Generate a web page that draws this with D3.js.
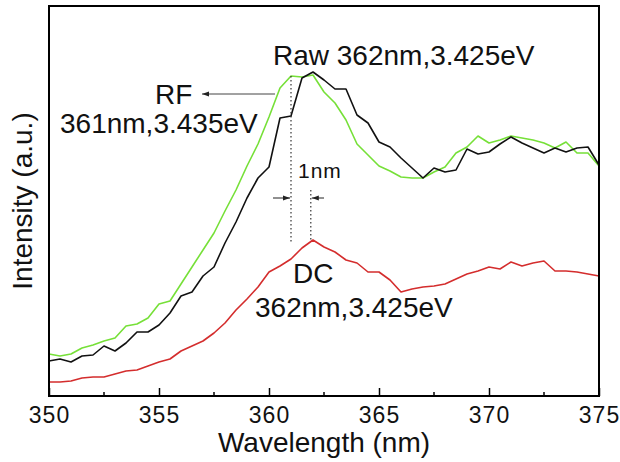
<!DOCTYPE html>
<html>
<head>
<meta charset="utf-8">
<script src="https://cdn.jsdelivr.net/npm/d3@7"></script>
<style>
  body { margin: 0; background: #fff; }
  svg { font-family: "Liberation Sans", Arial, sans-serif; }
</style>
</head>
<body>
<svg id="chart"></svg>
<script>
// PL spectra near the band edge: raw, RF and DC samples

const wavelength = [350, 350.5, 351, 351.5, 352, 352.5, 353, 353.5, 354, 354.5,
    355, 355.5, 356, 356.5, 357, 357.5, 358, 358.5, 359, 359.5,
    360, 360.5, 361, 361.5, 362, 362.5, 363, 363.5, 364, 364.5,
    365, 365.5, 366, 366.5, 367, 367.5, 368, 368.5, 369, 369.5,
    370, 370.5, 371, 371.5, 372, 372.5, 373, 373.5, 374, 374.5, 375];

const rawIntensity = [35, 37, 34, 40, 41, 50, 45, 53, 64, 64,
    71, 83, 100, 104, 120, 129, 153, 174, 198, 218,
    229, 278, 280, 318, 324, 316, 307, 307, 281, 273,
    254, 249, 238, 228, 218, 228, 224, 226, 247, 242,
    244, 252, 259, 253, 248, 243, 248, 244, 248, 249, 231];

const rfIntensity = [42, 40, 42, 48, 51, 55, 58, 70, 72, 78,
    92, 95, 112, 129, 146, 163, 185, 206, 230, 252,
    279, 308, 320, 319, 321, 304, 293, 276, 252, 241,
    230, 225, 219, 218, 218, 224, 229, 243, 249, 260,
    253, 256, 260, 258, 256, 253, 248, 254, 243, 243, 230];

const dcIntensity = [14, 14, 15, 18, 19, 19, 22, 25, 26, 30,
    34, 37, 45, 50, 55, 63, 73, 86, 97, 109,
    124, 130, 137, 148, 156, 149, 144, 136, 133, 124,
    124, 116, 104, 107, 109, 110, 112, 117, 122, 125,
    129, 127, 134, 130, 133, 135, 125, 125, 124, 122, 120];

const xTicks = [350, 355, 360, 365, 370, 375];
const xMinorTicks = [352.5, 357.5, 362.5, 367.5, 372.5];

const width = 620;
const height = 462;
const margin = { top: 6, right: 21, bottom: 66, left: 49 };

const svg = d3.select("#chart")
    .attr("width", width)
    .attr("height", height);

const x = d3.scaleLinear()
    .domain([350, 375])
    .range([margin.left, width - margin.right]);

const y = d3.scaleLinear()
    .domain([0, 390])
    .range([height - margin.bottom, margin.top]);

const line = d3.line()
    .x((d, i) => x(wavelength[i]))
    .y(d => y(d));

// series, drawn so black sits above green like the original
const series = [
    { values: dcIntensity, color: "#d42d2d" },
    { values: rfIntensity, color: "#76e038" },
    { values: rawIntensity, color: "#111" }
];

svg.selectAll("path.series")
    .data(series)
    .enter().append("path")
    .attr("class", "series")
    .attr("d", d => line(d.values))
    .attr("fill", "none")
    .attr("stroke", d => d.color)
    .attr("stroke-width", 1.6)
    .attr("stroke-linejoin", "round");

// bottom axis with inward ticks
const xAxis = svg.append("g")
    .attr("transform", `translate(0,${y(0)})`)
    .call(d3.axisBottom(x).tickValues(xTicks).tickSizeInner(-8).tickSizeOuter(0).tickPadding(11));
xAxis.select(".domain").remove();
xAxis.selectAll(".tick line").attr("stroke", "#000").attr("stroke-width", 1.5);
xAxis.selectAll("text")
    .attr("font-size", 23)
    .attr("letter-spacing", 1)
    .attr("fill", "#111");

svg.append("g")
    .selectAll("line")
    .data(xMinorTicks)
    .enter().append("line")
    .attr("x1", d => x(d)).attr("x2", d => x(d))
    .attr("y1", y(0)).attr("y2", y(0) - 4)
    .attr("stroke", "#000")
    .attr("stroke-width", 1.5);

// frame
svg.append("rect")
    .attr("x", x(350))
    .attr("y", y(390))
    .attr("width", x(375) - x(350))
    .attr("height", y(0) - y(390))
    .attr("fill", "none")
    .attr("stroke", "#000")
    .attr("stroke-width", 2);

// axis titles
svg.append("text")
    .attr("x", (x(350) + x(375)) / 2)
    .attr("y", 452)
    .attr("text-anchor", "middle")
    .attr("font-size", 28)
    .attr("fill", "#111")
    .text("Wavelength (nm)");

svg.append("text")
    .attr("transform", `translate(32,${(y(0) + y(390)) / 2}) rotate(-90)`)
    .attr("text-anchor", "middle")
    .attr("font-size", 28)
    .attr("fill", "#111")
    .text("Intensity (a.u.)");

// annotations
const labelSize = 28;
const notes = [
    { text: "Raw 362nm,3.425eV", x: 273, y: 65 },
    { text: "RF", x: 155, y: 104 },
    { text: "361nm,3.435eV", x: 60, y: 133 },
    { text: "DC", x: 293, y: 283 },
    { text: "362nm,3.425eV", x: 255, y: 317 }
];
svg.selectAll("text.note")
    .data(notes)
    .enter().append("text")
    .attr("class", "note")
    .attr("x", d => d.x)
    .attr("y", d => d.y)
    .attr("font-size", labelSize)
    .attr("fill", "#111")
    .text(d => d.text);

svg.append("text")
    .attr("x", 298)
    .attr("y", 178)
    .attr("font-size", 21)
    .attr("letter-spacing", 1)
    .attr("fill", "#111")
    .text("1nm");

const defs = svg.append("defs");
defs.append("marker")
    .attr("id", "head")
    .attr("viewBox", "0 0 10 10")
    .attr("refX", 10).attr("refY", 5)
    .attr("markerWidth", 7).attr("markerHeight", 7)
    .attr("markerUnits", "userSpaceOnUse")
    .attr("orient", "auto")
    .append("path")
    .attr("d", "M0,1.5 L10,5 L0,8.5 Z")
    .attr("fill", "#222");

// RF arrow pointing to its label
svg.append("line")
    .attr("x1", 275).attr("y1", 94)
    .attr("x2", 202).attr("y2", 94)
    .attr("stroke", "#444")
    .attr("stroke-width", 1)
    .attr("marker-end", "url(#head)");

// dotted guides at the two peaks
svg.append("line")
    .attr("x1", x(361)).attr("x2", x(361))
    .attr("y1", y(rfIntensity[22])).attr("y2", 242)
    .attr("stroke", "#333").attr("stroke-width", 1.2)
    .attr("stroke-dasharray", "1.5,2.5");
svg.append("line")
    .attr("x1", x(361.9)).attr("x2", x(361.9))
    .attr("y1", 190).attr("y2", y(dcIntensity[24]))
    .attr("stroke", "#333").attr("stroke-width", 1.2)
    .attr("stroke-dasharray", "1.5,2.5");

// 1nm gap arrows
svg.append("line")
    .attr("x1", 273).attr("y1", 198)
    .attr("x2", x(361) - 1).attr("y2", 198)
    .attr("stroke", "#222").attr("stroke-width", 1)
    .attr("marker-end", "url(#head)");
svg.append("line")
    .attr("x1", 324).attr("y1", 198)
    .attr("x2", x(361.9) + 1).attr("y2", 198)
    .attr("stroke", "#222").attr("stroke-width", 1)
    .attr("marker-end", "url(#head)");
</script>
</body>
</html>
